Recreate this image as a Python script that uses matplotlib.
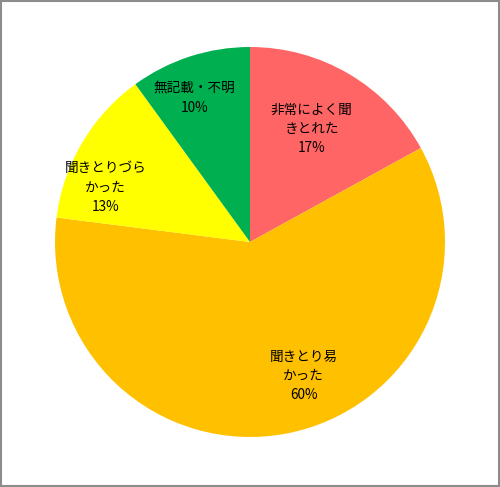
import matplotlib
matplotlib.use("Agg")
import matplotlib.pyplot as plt
from matplotlib.patches import Rectangle
import numpy as np

plt.rcParams['font.family'] = ['Noto Sans CJK JP', 'DejaVu Sans']

categories = ["非常によく聞\nきとれた", "聞きとり易\nかった", "聞きとりづら\nかった", "無記載・不明"]
values = [17, 60, 13, 10]
colors = ["#FF6565", "#FFC000", "#FFFF00", "#00B050"]

# label placement (angle offset from wedge middle in degrees, distance in radii)
label_pos = [(2, 0.66), (11, 0.74), (10, 0.79), (3, 0.79)]

fig = plt.figure(figsize=(5, 4.87), dpi=100)
ax = fig.add_axes([0.11, 0.1027, 0.78, 0.8008])

wedges, _ = ax.pie(values, colors=colors, startangle=90, counterclock=False,
                   radius=1, wedgeprops=dict(linewidth=0))
ax.set_xlim(-1, 1)
ax.set_ylim(-1, 1)
ax.set_aspect("equal")
ax.axis("off")

for w, name, v, (off, d) in zip(wedges, categories, values, label_pos):
    mid = np.deg2rad((w.theta1 + w.theta2) / 2 + off)
    ax.text(d * np.cos(mid), d * np.sin(mid), f"{name}\n{v}%",
            ha="center", va="center", fontsize=9.8, linespacing=1.5, color="black")

fig.patches.append(Rectangle((0.002, 0.002), 0.995, 0.995, transform=fig.transFigure,
                             fill=False, edgecolor="#8c8c8c", linewidth=1.5))

fig.savefig("out.png", dpi=100)
